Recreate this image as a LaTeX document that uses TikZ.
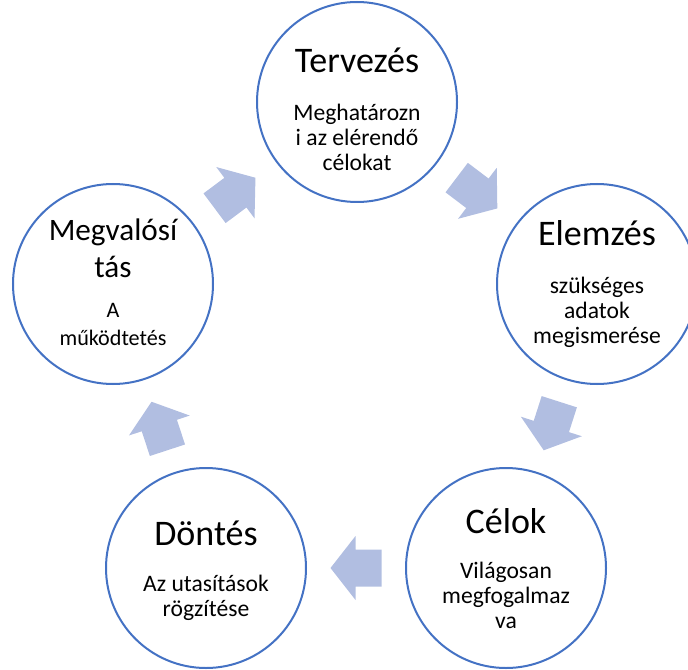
\documentclass[tikz,border=0pt]{standalone}
\usepackage{fontspec}
\setmainfont{Carlito}
\usetikzlibrary{calc}

\definecolor{ringblue}{RGB}{68,114,196}
\definecolor{arrowfill}{RGB}{177,190,225}

\tikzset{
  stage/.style={circle, draw=ringblue, line width=1.5pt, fill=white,
                minimum size=150pt, inner sep=0pt},
  title/.style={anchor=base, inner sep=0pt, font=\fontsize{27}{33}\selectfont},
  smalltitle/.style={anchor=base, inner sep=0pt, font=\fontsize{23.4}{27.75}\selectfont},
  body/.style={anchor=base, inner sep=0pt, font=\fontsize{17.7}{18.75}\selectfont},
  smallbody/.style={anchor=base, inner sep=0pt, font=\fontsize{16.6}{21}\selectfont},
}

% block arrow halfway between two stage nodes, pointing from #1 to #2
\newcommand\cyclearrow[2]{%
  \coordinate (#1#2mid) at ($(#1)!0.5!(#2)$);
  \coordinate (#1#2tip) at ($(#1#2mid)!19.125pt!(#2)$);
  \coordinate (#1#2neck) at ($(#1#2mid)!0.375pt!(#2)$);
  \coordinate (#1#2tail) at ($(#1#2mid)!-19.125pt!(#2)$);
  \fill[arrowfill] (#1#2tip)
    -- ($(#1#2neck)!24pt!90:(#2)$)
    -- ($(#1#2neck)!13.875pt!90:(#2)$)
    -- ($(#1#2tail)!13.875pt!90:(#2)$)
    -- ($(#1#2tail)!13.875pt!-90:(#2)$)
    -- ($(#1#2neck)!13.875pt!-90:(#2)$)
    -- ($(#1#2neck)!24pt!-90:(#2)$)
    -- cycle;
}

\newcommand\stack[1]{\begin{tabular}[t]{@{}c@{}}#1\end{tabular}}

\begin{document}
\begin{tikzpicture}[x=0.75pt, y=-0.75pt]
  \useasboundingbox (0,0) rectangle (688,670);
  \clip (0,0) rectangle (688,670);

  % stage centres
  \coordinate (Tc) at (357,102);
  \coordinate (Ec) at (597,284);
  \coordinate (Cc) at (506,568);
  \coordinate (Dc) at (206,568);
  \coordinate (Mc) at (113,284);

  % the five stages
  \node[stage] (T) at (Tc) {};
  \node[stage] (E) at (Ec) {};
  \node[stage] (C) at (Cc) {};
  \node[stage] (D) at (Dc) {};
  \node[stage] (M) at (Mc) {};

  % arrows of the cycle
  \cyclearrow{T}{E}
  \cyclearrow{E}{C}
  \cyclearrow{C}{D}
  \cyclearrow{D}{M}
  \cyclearrow{M}{T}

  % texts
  \node[title] (Tt) at ($(T)+(0,-29)$) {Tervezés};
  \node[body]  (Tb) at ($(T)+(0,19)$) {\stack{Meghatározn\\i az elérendő\\célokat}};

  \node[title] (Et) at ($(E)+(0,-39)$) {Elemzés};
  \node[body]  (Eb) at ($(E)+(0,9)$) {\stack{szükséges\\adatok\\megismerése}};

  \node[title] (Ct) at ($(C)+(0,-35)$) {Célok};
  \node[body]  (Cb) at ($(C)+(0,10)$) {\stack{Világosan\\megfogalmaz\\va}};

  \node[title] (Dt) at ($(D)+(0,-23)$) {Döntés};
  \node[body]  (Db) at ($(D)+(0,23)$) {\stack{Az utasítások\\rögzítése}};

  \node[smalltitle] (Mt) at ($(M)+(0,-44)$) {\stack{Megvalósí\\tás}};
  \node[smallbody]  (Mb) at ($(M)+(0,33)$) {\stack{A\\működtetés}};
\end{tikzpicture}
\end{document}
